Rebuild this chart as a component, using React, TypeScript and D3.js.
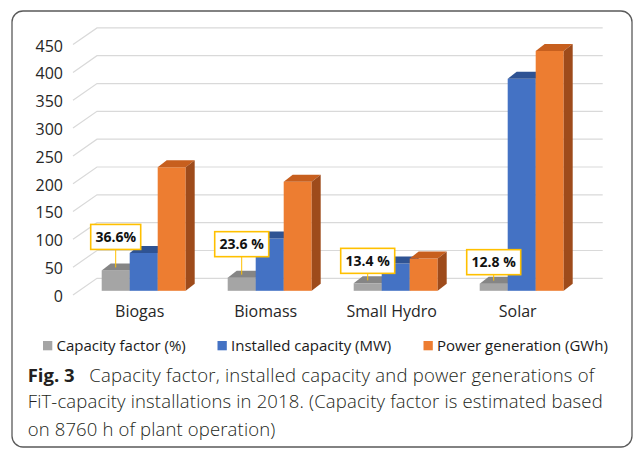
import * as d3 from "d3";

// chart values
const categories = ["Biogas", "Biomass", "Small Hydro", "Solar"];
const capacityFactor = [36.6, 23.6, 13.4, 12.8];
const installedCapacity = [68, 94, 49, 381];
const powerGeneration = [222, 196, 58, 431];
const capacityLabels = ["36.6%", "23.6 %", "13.4 %", "12.8 %"];
const yTicks = [0, 50, 100, 150, 200, 250, 300, 350, 400, 450];
const seriesNames = ["Capacity factor (%)", "Installed capacity (MW)", "Power generation (GWh)"];

// label box lift above the grey bar (px), as placed in the original
const labelLift = [21, 21, 10, 9];

const W = 636;
const H = 451;

const palette = [
    { front: "#A5A5A5", top: "#858585", side: "#7A7A7A" },
    { front: "#4472C4", top: "#2F5393", side: "#2E4F8A" },
    { front: "#ED7D31", top: "#C75F1E", side: "#9E4B1B" },
];

// 3d geometry: wall depth and bar placement inside it
const wall = { dx: 24, dy: -16.7 };
const barShift = { dx: 6, dy: -4.2 };
const barDepth = { dx: 9, dy: -7 };

export default function App() {
    const yScale = d3.scaleLinear().domain([0, 450]).range([295, 44.6]);

    const xFront = d3
        .scaleBand()
        .domain(categories)
        .range([74.7, 578.7])
        .paddingInner(1 / 3)
        .paddingOuter(1 / 6);

    const xSeries = d3
        .scaleBand()
        .domain(["0", "1", "2"])
        .range([0, xFront.bandwidth()]);

    const series = [capacityFactor, installedCapacity, powerGeneration];
    const wallLeft = xFront.range()[0] - 1.7;
    const wallRight = xFront.range()[1] + wall.dx;

    const bars: any[] = [];
    categories.forEach((c, ci) => {
        series.forEach((vals, si) => {
            const x0 = xFront(c)! + xSeries(String(si))! + barShift.dx;
            const w = xSeries.bandwidth();
            const yb = yScale(0) + barShift.dy;
            const yt = yScale(vals[ci]) + barShift.dy;
            const col = palette[si];
            const { dx, dy } = barDepth;
            bars.push(
                <g key={c + si}>
                    <rect x={x0} y={yt} width={w} height={yb - yt} fill={col.front} />
                    <path
                        d={`M${x0},${yt}L${x0 + dx},${yt + dy}L${x0 + w + dx},${yt + dy}L${x0 + w},${yt}Z`}
                        fill={col.top}
                    />
                    <path
                        d={`M${x0 + w},${yt}L${x0 + w + dx},${yt + dy}L${x0 + w + dx},${yb + dy}L${x0 + w},${yb}Z`}
                        fill={col.side}
                    />
                </g>
            );
        });
    });

    const labels = categories.map((c, ci) => {
        const cx = xFront(c)! + xSeries("0")! + barShift.dx + xSeries.bandwidth() / 2;
        const yTop = yScale(capacityFactor[ci]) + barShift.dy;
        const boxH = 25;
        const boxW = ci === 0 ? 50 : 54;
        const boxBottom = yTop - labelLift[ci];
        return (
            <g key={"lab" + c}>
                <line x1={cx} x2={cx} y1={boxBottom} y2={yTop - 3} stroke="#FFC000" strokeWidth={1} />
                <rect
                    x={cx - boxW / 2}
                    y={boxBottom - boxH}
                    width={boxW}
                    height={boxH}
                    fill="#fff"
                    stroke="#FFC000"
                    strokeWidth={1.6}
                />
                <text
                    x={cx}
                    y={boxBottom - boxH / 2}
                    dy="0.36em"
                    textAnchor="middle"
                    fontSize={14}
                    fontWeight="bold"
                    fill="#111"
                >
                    {capacityLabels[ci]}
                </text>
            </g>
        );
    });

    const legendX = [43, 217.5, 423.5];

    return (
        <svg
            width={W}
            height={H}
            style={{ position: "absolute", left: 0, top: 0, background: "#fff" }}
            fontFamily="'Open Sans', 'Noto Sans', sans-serif"
        >
            <rect x={12} y={11} width={620} height={436} rx={11} fill="#fff" stroke="#5a5a5a" strokeWidth={1.3} />

            {/* gridlines on the back wall */}
            {yTicks.map((t) => (
                <polyline
                    key={"g" + t}
                    points={`${wallLeft},${yScale(t)} ${wallLeft + wall.dx},${yScale(t) + wall.dy} ${wallRight},${yScale(t) + wall.dy}`}
                    fill="none"
                    stroke="#D9D9D9"
                    strokeWidth={1.2}
                />
            ))}

            {/* y tick labels */}
            {yTicks.map((t) => (
                <text
                    key={"t" + t}
                    x={63}
                    y={yScale(t) + 1.2}
                    dy="0.36em"
                    textAnchor="end"
                    fontSize={16}
                    fill="#262626"
                >
                    {t}
                </text>
            ))}

            {bars}
            {labels}

            {/* category labels */}
            {categories.map((c) => (
                <text
                    key={"c" + c}
                    x={xFront(c)! + xFront.bandwidth() / 2 + barShift.dx - 4}
                    y={316.7}
                    textAnchor="middle"
                    fontSize={16}
                    fill="#262626"
                >
                    {c}
                </text>
            ))}

            {/* legend */}
            {seriesNames.map((s, i) => (
                <g key={"l" + s}>
                    <rect x={legendX[i]} y={341} width={9.3} height={9.3} fill={palette[i].front} />
                    <text x={legendX[i] + 13.5} y={350.9} fontSize={15} fill="#1a1a1a">
                        {s}
                    </text>
                </g>
            ))}

            {/* caption */}
            <text x={27.7} y={381.7} fontSize={18.5} fill="#231f20">
                <tspan fontWeight="bold">Fig. 3</tspan>
                <tspan x={89.3} fontWeight={300} textLength={505} lengthAdjust="spacing">
                    Capacity factor, installed capacity and power generations of
                </tspan>
            </text>
            <text x={27.7} y={408.3} fontSize={18.5} fontWeight={300} fill="#231f20" textLength={575} lengthAdjust="spacing">
                FiT-capacity installations in 2018. (Capacity factor is estimated based
            </text>
            <text x={27.7} y={435.5} fontSize={18.5} fontWeight={300} fill="#231f20" textLength={247.6} lengthAdjust="spacing">
                on 8760 h of plant operation)
            </text>
        </svg>
    );
}
